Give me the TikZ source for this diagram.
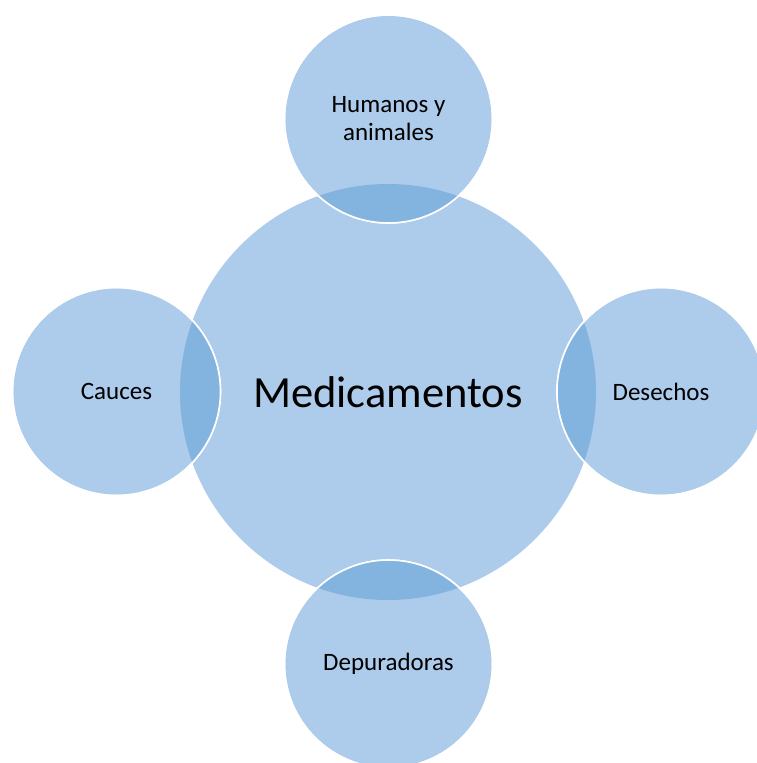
\documentclass[tikz,border=0pt]{standalone}
\usepackage{fontspec}
\setmainfont{Carlito}
\definecolor{circfill}{HTML}{ADCBEA}
\definecolor{lensfill}{HTML}{83B3DF}
\tikzset{
  bigc/.style={circle, fill=circfill, inner sep=0pt, minimum size=416pt,
    font=\fontsize{44.5}{50}\selectfont, text=black},
  smallc/.style={circle, fill=circfill, draw=white, line width=1.6pt, inner sep=0pt,
    minimum size=208pt, align=center, font=\fontsize{25}{28}\selectfont, text=black},
  lens/.style={fill=lensfill},
  rim/.style={draw=white, line width=1.6pt}
}
\begin{document}
\begin{tikzpicture}[x=1pt,y=-1pt]
\useasboundingbox (0,0) rectangle (757,763);
\clip (0,0) rectangle (757,763);
\node[bigc] (med) at (388,392) {Medicamentos};
\node[smallc] (hum) at (388.5,119) {Humanos y\\animales};
\node[smallc] (cau) at (116.5,391.5) {Cauces};
\node[smallc] (des) at (661,391.5) {Desechos};
\node[smallc] (dep) at (388.5,664) {Depuradoras};
\foreach \n in {hum,cau,des,dep}{
  \begin{scope}
    \clip (\n.center) circle (104pt);
    \fill[lens] (med.center) circle (208pt);
  \end{scope}
  \draw[rim] (\n.center) circle (104pt);
}
\end{tikzpicture}
\end{document}
